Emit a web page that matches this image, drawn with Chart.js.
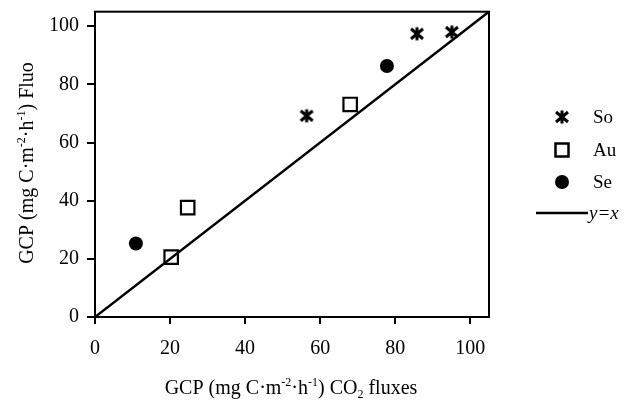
<!DOCTYPE html>
<html>
<head>
<meta charset="utf-8">
<script src="https://cdn.jsdelivr.net/npm/chart.js@4/dist/chart.umd.min.js"></script>
<style>
  html, body { margin: 0; padding: 0; background: #fff; }
  #wrap { width: 633px; height: 405px; position: relative; }
</style>
</head>
<body>
<div id="wrap"><canvas id="chart"></canvas></div>
<script>
// data
const soX = [56.4, 85.8, 95.1];
const soY = [69.2, 97.4, 98.0];
const auX = [20.3, 24.7, 68.0];
const auY = [20.6, 37.6, 73.1];
const seX = [10.9, 77.8];
const seY = [25.3, 86.3];
const lineX = [0, 105];
const tickVals = [0, 20, 40, 60, 80, 100];
const seriesNames = ["So", "Au", "Se", "y=x"];

const FONT = "'Liberation Serif', 'Times New Roman', serif";

function pts(xs, ys) {
  return xs.map((x, i) => ({ x: x, y: ys[i] }));
}

// six-armed star marker (X with a vertical bar)
function makeStar() {
  const c = document.createElement("canvas");
  c.width = 16; c.height = 16;
  const g = c.getContext("2d");
  g.strokeStyle = "#000";
  g.lineWidth = 3;
  g.beginPath();
  g.moveTo(8, 1.5); g.lineTo(8, 14.5);
  g.moveTo(2, 3); g.lineTo(14, 13);
  g.moveTo(14, 3); g.lineTo(2, 13);
  g.stroke();
  return c;
}
const star = makeStar();

// text with superscripts / subscripts
function richText(ctx, parts, x, y, size) {
  let total = 0;
  parts.forEach(p => {
    ctx.font = (p.sup || p.sub ? Math.round(size * 0.6) : size) + "px " + FONT;
    total += ctx.measureText(p.t).width;
  });
  let cx = x - total / 2;
  parts.forEach(p => {
    ctx.font = (p.sup || p.sub ? Math.round(size * 0.6) : size) + "px " + FONT;
    let dy = p.sup ? -size * 0.42 : (p.sub ? size * 0.22 : 0);
    ctx.fillText(p.t, cx, y + dy);
    cx += ctx.measureText(p.t).width;
  });
}

const xTitle = [
  { t: "GCP (mg C·m" }, { t: "-2", sup: true }, { t: "·h" }, { t: "-1", sup: true },
  { t: ") CO" }, { t: "2", sub: true }, { t: " fluxes" }
];
const yTitle = [
  { t: "GCP (mg C·m" }, { t: "-2", sup: true }, { t: "·h" }, { t: "-1", sup: true },
  { t: ") Fluo" }
];

const extras = {
  id: "extras",
  afterDraw(chart) {
    const ctx = chart.ctx;
    const a = chart.chartArea;
    ctx.save();
    // frame
    ctx.strokeStyle = "#000";
    ctx.lineWidth = 2;
    ctx.strokeRect(a.left, a.top, a.right - a.left, a.bottom - a.top);

    // axis titles
    ctx.fillStyle = "#000";
    ctx.textBaseline = "alphabetic";
    ctx.textAlign = "left";
    richText(ctx, xTitle, 291, 394, 20);
    ctx.save();
    ctx.translate(33, 163);
    ctx.rotate(-Math.PI / 2);
    richText(ctx, yTitle, 0, 0, 20);
    ctx.restore();

    // legend
    const mx = 562, tx = 593;
    const rows = [117, 150, 182];
    ctx.font = "19px " + FONT;
    ctx.textBaseline = "middle";
    ctx.drawImage(star, mx - 8, rows[0] - 8);
    ctx.lineWidth = 2.5;
    ctx.strokeRect(mx - 6.5, rows[1] - 6.5, 13, 13);
    ctx.beginPath();
    ctx.arc(mx, rows[2], 7, 0, Math.PI * 2);
    ctx.fill();
    ctx.fillText(seriesNames[0], tx, rows[0] + 1);
    ctx.fillText(seriesNames[1], tx, rows[1] + 1);
    ctx.fillText(seriesNames[2], tx, rows[2] + 1);
    ctx.lineWidth = 2.5;
    ctx.beginPath();
    ctx.moveTo(536, 213);
    ctx.lineTo(588, 213);
    ctx.stroke();
    ctx.font = "italic 19px " + FONT;
    ctx.fillText(seriesNames[3], 589, 214);
    ctx.restore();
  }
};

new Chart(document.getElementById("chart"), {
  type: "scatter",
  data: {
    datasets: [
      {
        label: seriesNames[3],
        type: "line",
        data: pts(lineX, lineX),
        borderColor: "#000",
        borderWidth: 2.5,
        pointRadius: 0,
        fill: false
      },
      {
        label: seriesNames[0],
        data: pts(soX, soY),
        pointStyle: star,
        pointRadius: 8
      },
      {
        label: seriesNames[1],
        data: pts(auX, auY),
        pointStyle: "rect",
        pointRadius: 9.5,
        borderColor: "#000",
        borderWidth: 2.2,
        backgroundColor: "#fff"
      },
      {
        label: seriesNames[2],
        data: pts(seX, seY),
        pointStyle: "circle",
        pointRadius: 7,
        borderColor: "#000",
        borderWidth: 0,
        backgroundColor: "#000"
      }
    ]
  },
  options: {
    responsive: true,
    maintainAspectRatio: false,
    animation: false,
    layout: { padding: { top: 5, right: 144, bottom: 0, left: 0 } },
    plugins: {
      legend: { display: false },
      tooltip: { enabled: false }
    },
    scales: {
      x: {
        type: "linear",
        min: 0,
        max: 105,
        afterBuildTicks(s) { s.ticks = tickVals.map(v => ({ value: v })); },
        afterFit(s) { s.height = 88; s.paddingLeft = 0; s.paddingRight = 0; },
        border: { display: true, color: "#000", width: 2 },
        grid: { drawOnChartArea: false, drawTicks: true, tickLength: 7, color: "#000", lineWidth: 2 },
        ticks: { color: "#000", padding: 13, font: { family: FONT, size: 20 } }
      },
      y: {
        type: "linear",
        min: 0,
        max: 105,
        afterBuildTicks(s) { s.ticks = tickVals.map(v => ({ value: v })); },
        afterFit(s) { s.width = 95; s.paddingTop = 0; s.paddingBottom = 0; },
        border: { display: true, color: "#000", width: 2 },
        grid: { drawOnChartArea: false, drawTicks: true, tickLength: 8, color: "#000", lineWidth: 2 },
        ticks: { color: "#000", padding: 8, font: { family: FONT, size: 20 } }
      }
    }
  },
  plugins: [extras]
});
</script>
</body>
</html>
